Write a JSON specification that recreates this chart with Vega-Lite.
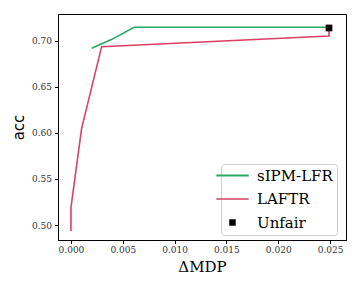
{
  "$schema": "https://vega.github.io/schema/vega-lite/v6.json",
  "width": 288,
  "height": 226,
  "autosize": {"type": "none"},
  "padding": {"left": 58, "top": 14, "right": 14, "bottom": 48},
  "background": "white",
  "config": {
    "view": {"stroke": "black", "strokeWidth": 1},
    "axis": {
      "grid": false,
      "domainColor": "black",
      "tickColor": "black",
      "tickSize": 3.5,
      "labelFont": "DejaVu Serif",
      "labelFontSize": 9,
      "labelColor": "#333333",
      "titleFontWeight": "normal",
      "titleColor": "black"
    }
  },
  "datasets": {
    "lines": [
      {"series": "sIPM-LFR", "order": 1, "dmdp": 0.0020, "acc": 0.692},
      {"series": "sIPM-LFR", "order": 2, "dmdp": 0.0039, "acc": 0.7015},
      {"series": "sIPM-LFR", "order": 3, "dmdp": 0.0061, "acc": 0.7149},
      {"series": "sIPM-LFR", "order": 4, "dmdp": 0.0249, "acc": 0.7149},
      {"series": "LAFTR", "order": 1, "dmdp": 0.0, "acc": 0.4935},
      {"series": "LAFTR", "order": 2, "dmdp": 0.0, "acc": 0.519},
      {"series": "LAFTR", "order": 3, "dmdp": 0.00103, "acc": 0.605},
      {"series": "LAFTR", "order": 4, "dmdp": 0.00296, "acc": 0.6938},
      {"series": "LAFTR", "order": 5, "dmdp": 0.0249, "acc": 0.7054},
      {"series": "LAFTR", "order": 6, "dmdp": 0.0249, "acc": 0.7138}
    ],
    "unfair": [
      {"series": "Unfair", "dmdp": 0.0249, "acc": 0.7141}
    ]
  },
  "layer": [
    {
      "data": {"name": "lines"},
      "mark": {"type": "line", "strokeWidth": 1.6},
      "encoding": {
        "x": {"field": "dmdp", "type": "quantitative"},
        "y": {"field": "acc", "type": "quantitative"},
        "order": {"field": "order", "type": "quantitative"},
        "detail": {"field": "series"},
        "strokeWidth": {"field": "series", "type": "nominal", "scale": {"domain": ["sIPM-LFR", "LAFTR"], "range": [2.2, 1.5]}, "legend": null},
        "color": {"field": "series", "type": "nominal"}
      }
    },
    {
      "data": {"name": "unfair"},
      "mark": {"type": "square", "size": 45, "opacity": 1, "filled": true},
      "encoding": {
        "x": {"field": "dmdp", "type": "quantitative"},
        "y": {"field": "acc", "type": "quantitative"},
        "color": {"field": "series", "type": "nominal"}
      }
    }
  ],
  "resolve": {"scale": {"color": "shared"}},
  "encoding": {
    "x": {
      "field": "dmdp", "type": "quantitative",
      "scale": {"domain": [-0.00125, 0.02654], "nice": false, "zero": false},
      "axis": {
        "title": "ΔMDP", "titleFont": "DejaVu Serif", "titleFontSize": 15,
        "values": [0, 0.005, 0.01, 0.015, 0.02, 0.025], "format": ".3f",
        "labelPadding": 2, "titlePadding": 5
      }
    },
    "y": {
      "field": "acc", "type": "quantitative",
      "scale": {"domain": [0.4837, 0.7293], "nice": false, "zero": false},
      "axis": {
        "title": "acc", "titleFont": "DejaVu Sans", "titleFontSize": 15,
        "values": [0.5, 0.55, 0.6, 0.65, 0.7], "format": ".2f",
        "labelPadding": 3, "titlePadding": 5
      }
    },
    "color": {
      "field": "series", "type": "nominal",
      "scale": {"domain": ["sIPM-LFR", "LAFTR", "Unfair"], "range": ["#2aa864", "#dc4066", "#000000"]},
      "legend": {
        "title": null,
        "orient": "none",
        "legendX": 163,
        "legendY": 150,
        "fillColor": "white",
        "strokeColor": "#d0d0d0",
        "cornerRadius": 3,
        "padding": 4,
        "labelFont": "DejaVu Serif",
        "labelFontSize": 15,
        "labelColor": "black",
        "labelOffset": 17,
        "rowPadding": 7.5,
        "symbolType": "stroke",
        "symbolSize": 1050,
        "symbolStrokeWidth": 2,
        "encode": {
          "symbols": {
            "update": {
              "shape": {"signal": "datum.value === 'Unfair' ? 'square' : 'stroke'"},
              "size": {"signal": "datum.value === 'Unfair' ? 42 : 1050"},
              "fill": {"signal": "datum.value === 'Unfair' ? 'black' : 'transparent'"},
              "strokeWidth": {"signal": "datum.value === 'Unfair' ? 0 : 2"},
              "opacity": {"signal": "datum.value === 'LAFTR' ? 0.75 : 1"}
            }
          }
        }
      }
    }
  }
}
